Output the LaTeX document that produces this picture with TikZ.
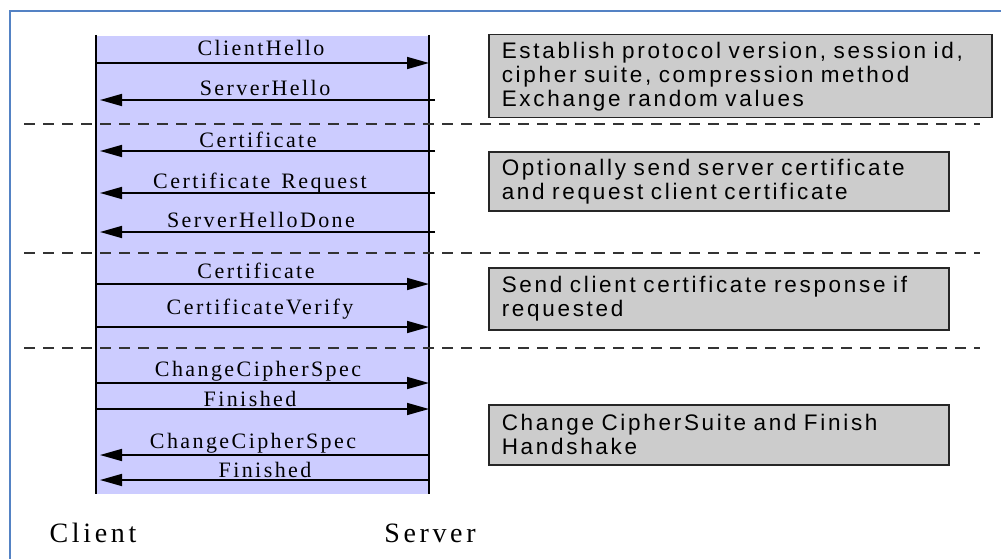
\documentclass[tikz,border=0pt]{standalone}
\usepackage{fontspec}
\setmainfont{Liberation Serif}
\newfontfamily\boxfont[LetterSpace=12,WordSpace=1.6]{Liberation Sans}
\newfontfamily\msgfont[LetterSpace=11,WordSpace=1.4]{Liberation Serif}
\newfontfamily\rolefont[LetterSpace=13]{Liberation Serif}
\usetikzlibrary{arrows.meta}
\definecolor{band}{RGB}{204,204,255}
\definecolor{boxgray}{RGB}{204,204,204}
\definecolor{frameblue}{RGB}{84,130,196}
\begin{document}
\begin{tikzpicture}[x=1pt,y=-1pt,
  msg/.style={font=\msgfont\fontsize{22}{24}\selectfont, anchor=base, inner sep=0pt},
  role/.style={font=\rolefont\fontsize{28}{30}\selectfont, anchor=base, inner sep=0pt},
  note/.style={draw=black!85, line width=1.5pt, fill=boxgray, anchor=north west,
    inner xsep=13pt, inner ysep=0pt, align=left,
    font=\boxfont\fontsize{22.5}{24}\selectfont},
  lifeline/.style={line width=2pt, black},
  sepline/.style={dash pattern=on 11pt off 8pt, line width=1.3pt, black!80},
  arr/.style={-{Triangle[length=22pt,width=12pt]}, line width=1.6pt, black},
]
\useasboundingbox (0,0) rectangle (1001,559);
\fill[white] (0,0) rectangle (1001,559);
% frame
\coordinate (fbl) at (10,559);
\coordinate (ftl) at (10,11);
\coordinate (ftr) at (1001,11);
\draw[frameblue, line width=2pt] (fbl) -- (ftl) -- (ftr);
% band
\fill[band] (96,36) rectangle (429,494);
% lifelines
\coordinate (ctop) at (96,35);
\coordinate (cbot) at (96,494);
\coordinate (stop) at (429,35);
\coordinate (sbot) at (429,494);
\draw[lifeline] (ctop) -- (cbot);
\draw[lifeline] (stop) -- (sbot);
% separators
\foreach \i/\y in {1/124,2/253,3/348}{
  \coordinate (dl\i) at (24,\y);
  \coordinate (dr\i) at (980,\y);
  \draw[sepline] (dl\i) -- (dr\i);
}
% right-going messages
\foreach \i/\y in {1/63,6/284,7/327,8/383,9/409}{
  \coordinate (c\i) at (96,\y);
  \coordinate (s\i) at (429,\y);
  \draw[arr] (c\i) -- (s\i);
}
% left-going messages
\foreach \i/\y/\xs in {2/100/435,3/151/435,4/193/435,5/232/435,10/455/429,11/480/429}{
  \coordinate (c\i) at (100,\y);
  \coordinate (s\i) at (\xs,\y);
  \draw[arr] (s\i) -- (c\i);
}
% labels
\node[msg] (l1) at (261,56) {ClientHello};
\node[msg] (l2) at (265,96) {ServerHello};
\node[msg] (l3) at (258,147) {Certificate};
\node[msg] (l4) at (260,188) {Certificate Request};
\node[msg] (l5) at (261,227) {ServerHelloDone};
\node[msg] (l6) at (256,278) {Certificate};
\node[msg] (l7) at (260,314) {CertificateVerify};
\node[msg] (l8) at (258,376) {ChangeCipherSpec};
\node[msg] (l9) at (250,406) {Finished};
\node[msg] (l10) at (253,448) {ChangeCipherSpec};
\node[msg] (l11) at (265,477) {Finished};
% notes
\node[note, minimum width=503pt, minimum height=83pt, text width=477pt] (n1) at (488,34)
  {Establish protocol version, session id,\\cipher suite, compression method\\Exchange random values};
\node[note, minimum width=460pt, minimum height=59pt, text width=434pt] (n2) at (488,151)
  {Optionally send server certificate\\and request client certificate};
\node[note, minimum width=460pt, minimum height=62pt, text width=434pt] (n3) at (488,267)
  {Send client certificate response if\\requested};
\node[note, minimum width=460pt, minimum height=60pt, text width=434pt] (n4) at (488,404)
  {Change CipherSuite and Finish\\Handshake};
% roles
\node[role] (client) at (93,542) {Client};
\node[role] (server) at (430,542) {Server};
\end{tikzpicture}
\end{document}
